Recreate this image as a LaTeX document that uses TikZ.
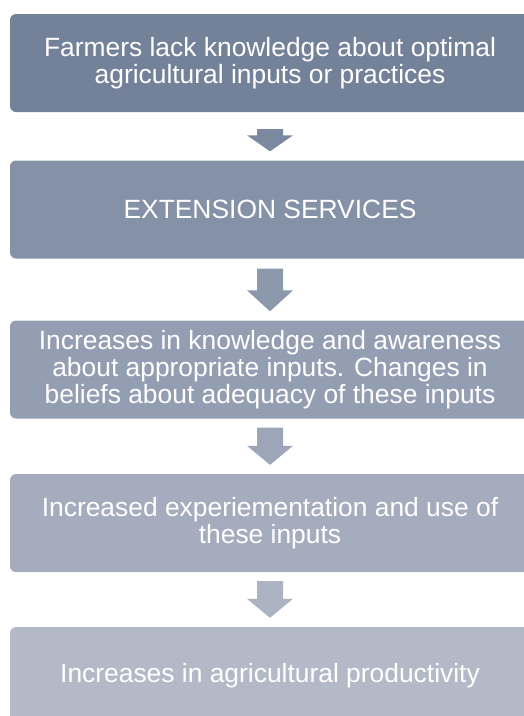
\documentclass[tikz,border=0pt]{standalone}
\usepackage{fontspec}
\setmainfont{Liberation Sans}
\usetikzlibrary{calc}
\definecolor{shadea}{RGB}{115,129,153}
\definecolor{shadeb}{RGB}{132,145,166}
\definecolor{shadec}{RGB}{148,158,178}
\definecolor{shaded}{RGB}{164,172,189}
\definecolor{shadee}{RGB}{179,185,199}
\definecolor{arrowa}{RGB}{123,137,160}
\definecolor{arrowb}{RGB}{140,152,172}
\definecolor{arrowc}{RGB}{156,166,184}
\definecolor{arrowd}{RGB}{172,179,195}
\tikzset{stage/.style={rounded corners=6pt,minimum width=520pt,minimum height=98pt,inner sep=0pt,
    text=white,align=center,font=\fontsize{26.4}{27}\selectfont}}
% block arrow: colour, upper node, lower node, gap below upper, head length
\newcommand\flowarrow[5]{%
  \fill[#1] let \p1=(#2.south), \p2=(#3.north) in
    (\x1-13pt,\y1-#4) -- (\x1+13pt,\y1-#4) -- (\x1+13pt,\y2+9pt+#5) -- (\x1+23pt,\y2+9pt+#5)
    -- (\x1,\y2+9pt) -- (\x1-23pt,\y2+9pt+#5) -- (\x1-13pt,\y2+9pt+#5) -- cycle;}
\begin{document}
\begin{tikzpicture}[x=1pt,y=1pt]
	\clip (0,0) rectangle (524,-716);
	\node[stage,fill=shadea] (lack) at (270,-63) {Farmers lack knowledge about optimal\\agricultural inputs or practices};
	\node[stage,fill=shadeb] (ext) at (270,-209.5) {EXTENSION SERVICES};
	\node[stage,fill=shadec] (know) at (270,-369.5) {Increases in knowledge and awareness\\about appropriate inputs. Changes in\\beliefs about adequacy of these inputs};
	\node[stage,fill=shaded] (use) at (270,-523) {Increased experiementation and use of\\these inputs};
	\node[stage,fill=shadee] (prod) at (270,-676) {Increases in agricultural productivity};
	\flowarrow{arrowa}{lack}{ext}{17pt}{16pt}
	\flowarrow{arrowb}{ext}{know}{10pt}{21pt}
	\flowarrow{arrowc}{know}{use}{9pt}{19pt}
	\flowarrow{arrowd}{use}{prod}{9pt}{19pt}
\end{tikzpicture}
\end{document}
